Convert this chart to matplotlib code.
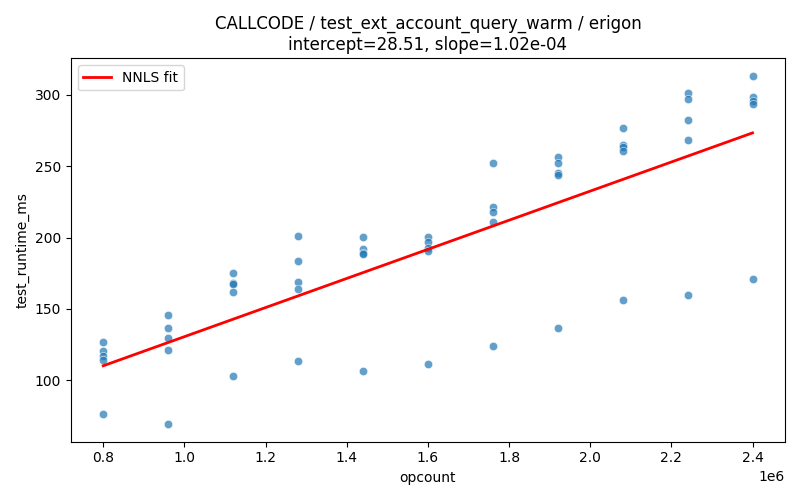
import matplotlib
matplotlib.use("Agg")
import matplotlib.pyplot as plt
import seaborn as sns
import numpy as np
import pandas as pd

opcount_levels = [0.8e6, 0.96e6, 1.12e6, 1.28e6, 1.44e6, 1.6e6, 1.76e6, 1.92e6, 2.08e6, 2.24e6, 2.4e6]
runtimes = [
    [126.5, 120.4, 117.3, 114.0, 76.6],
    [145.4, 136.3, 129.5, 121.1, 69.1],
    [174.9, 167.9, 167.4, 161.5, 102.6],
    [200.8, 183.3, 168.6, 163.6, 113.8],
    [200.1, 191.9, 188.9, 188.2, 106.5],
    [200.4, 196.6, 192.4, 190.7, 111.5],
    [252.1, 221.4, 217.7, 210.7, 124.3],
    [256.5, 252.1, 245.1, 243.6, 136.3],
    [276.6, 264.9, 263.5, 260.5, 155.9],
    [301.4, 297.0, 282.2, 268.2, 159.4],
    [313.3, 298.5, 295.8, 293.7, 170.7],
]
intercept = 28.51
slope = 1.02e-04

xs = []
ys = []
for x, vals in zip(opcount_levels, runtimes):
    for v in vals:
        xs.append(x)
        ys.append(v)
df = pd.DataFrame({"opcount": xs, "test_runtime_ms": ys})

fig, ax = plt.subplots(figsize=(8, 5), dpi=100)
sns.scatterplot(data=df, x="opcount", y="test_runtime_ms", ax=ax, alpha=0.7)
xfit = np.array([min(opcount_levels), max(opcount_levels)])
ax.plot(xfit, intercept + slope * xfit, color="red", linewidth=2, label="NNLS fit")
ax.set_title("CALLCODE / test_ext_account_query_warm / erigon\nintercept=28.51, slope=1.02e-04")
ax.legend(loc="upper left")
fig.tight_layout()
fig.savefig("out.png")
